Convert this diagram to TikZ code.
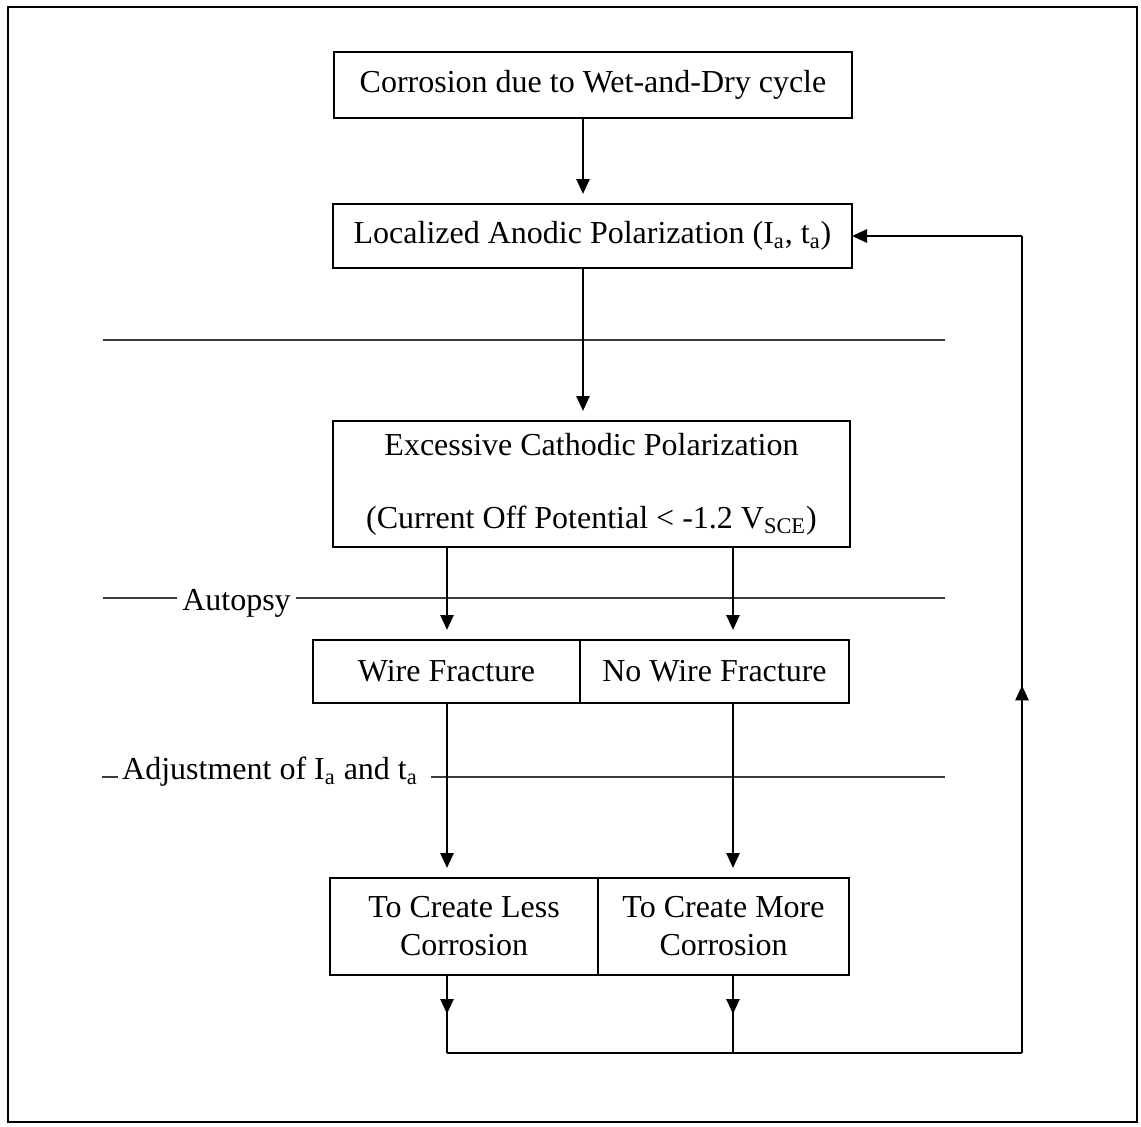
\documentclass[tikz,border=0pt]{standalone}
\usepackage{fontspec}
\setmainfont{Liberation Serif}
\usetikzlibrary{arrows.meta,positioning,calc,decorations.markings}
\definecolor{sepgray}{RGB}{60,60,60}

\begin{document}
\begin{tikzpicture}[x=0.5pt, y=-0.5pt,
    every node/.style={font=\fontsize{16}{19}\selectfont},
    box/.style={draw, line width=1.3pt, inner sep=0pt, outer sep=0pt, align=center},
    flow/.style={line width=1.3pt, -{Triangle[length=7.5pt,width=6.5pt]}, shorten >=5pt},
    link/.style={line width=1.3pt},
    midflow/.style={link, postaction={decorate}, decoration={markings,
      mark=at position #1 with {\arrow{Triangle[length=7.5pt,width=6.5pt]}}}},
    sepline/.style={line width=0.9pt, sepgray}]
  \useasboundingbox (0,0) rectangle (1141,1126);
  % frame
  \draw[line width=1.4pt] (8,7) rectangle (1137,1122);
  % columns and ends
  \coordinate (colM) at (583,0);
  \coordinate (colL) at (447,0);
  \coordinate (colR) at (733,0);
  \coordinate (bl) at (447,1053);
  \coordinate (br) at (1022,1053);
  % boxes
  \node[box, minimum width=259pt, minimum height=33pt] (cwd) at (593,85)
    {Corrosion due to Wet-and-Dry cycle};
  \node[box, minimum width=259.5pt, minimum height=32pt] (lap) at (592.5,236)
    {Localized Anodic Polarization (I\textsubscript{a}, t\textsubscript{a})};
  \node[box, minimum width=258.5pt, minimum height=63pt] (ecp) at (591.5,484)
    {Excessive Cathodic Polarization\\[17.5pt](Current Off Potential < -1.2 V\textsubscript{SCE})};
  \node[box, minimum width=133.5pt, minimum height=31.5pt] (wf) at (446.5,671.5) {Wire Fracture};
  \node[box, minimum width=134.5pt, minimum height=31.5pt, right=0pt of wf] (nwf) {No Wire Fracture};
  \node[box, minimum width=134pt, minimum height=48.5pt] (less) at (464,926.5)
    {To Create Less\\Corrosion};
  \node[box, minimum width=125.5pt, minimum height=48.5pt, right=0pt of less] (more)
    {To Create More\\Corrosion};
  % stage lines
  \coordinate (s1w) at (103,340);
  \coordinate (s1e) at (945,340);
  \coordinate (s2w) at (103,598);
  \coordinate (s2e) at (945,598);
  \coordinate (s3w) at (102,777);
  \coordinate (s3e) at (945,777);
  \draw[sepline] (s1w) -- (s1e);
  \node[anchor=base, inner xsep=2.5pt] (autopsy) at (236.5,610) {Autopsy};
  \draw[sepline] (s2w) -- (autopsy.west |- s2w);
  \draw[sepline] (autopsy.east |- s2e) -- (s2e);
  \node[anchor=base, inner xsep=0pt] (adjust) at (270,779)
    {Adjustment of I\textsubscript{a} and t\textsubscript{a}};
  \draw[sepline] (s3w) -- ([xshift=-2pt]adjust.west |- s3w);
  \draw[sepline] ([xshift=6.5pt]adjust.east |- s3e) -- (s3e);
  % arrows
  \draw[flow] (cwd.south -| colM) -- (lap.north -| colM);
  \draw[flow] (lap.south -| colM) -- (ecp.north -| colM);
  \draw[flow] (ecp.south -| colL) -- (wf.north -| colL);
  \draw[flow] (ecp.south -| colR) -- (nwf.north -| colR);
  \draw[flow] (wf.south -| colL) -- (less.north -| colL);
  \draw[flow] (nwf.south -| colR) -- (more.north -| colR);
  % feedback
  \draw[midflow=0.5] (less.south -| colL) -- (bl);
  \draw[midflow=0.5] (more.south -| colR) -- (bl -| colR);
  \draw[link] (bl) -- (br);
  \draw[midflow=0.45] (br) -- (br |- lap.east);
  \draw[line width=1.3pt, -{Triangle[length=7.5pt,width=6.5pt]}] (br |- lap.east) -- (lap.east);
\end{tikzpicture}
\end{document}
